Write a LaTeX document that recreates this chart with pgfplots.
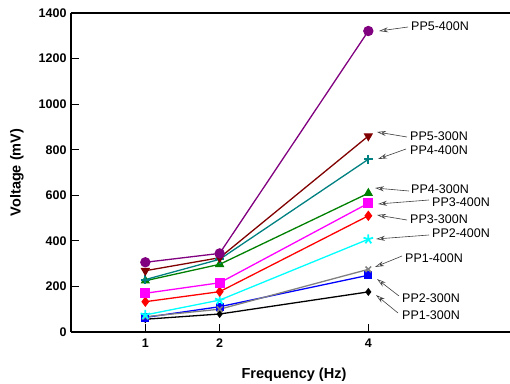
\documentclass[border=0pt]{standalone}
\usepackage{pgfplots}
\pgfplotsset{compat=1.18}
\usepackage{fontspec}
\setmainfont{Liberation Sans}
\usetikzlibrary{arrows.meta}
\definecolor{cPurple}{RGB}{128,0,128}
\definecolor{cDarkRed}{RGB}{128,0,0}
\definecolor{cTeal}{RGB}{0,128,128}
\definecolor{cGreen}{RGB}{0,128,0}
\definecolor{cMag}{RGB}{255,0,255}
\definecolor{cRed}{RGB}{255,0,0}
\definecolor{cCyan}{RGB}{0,255,255}
\definecolor{cGray}{RGB}{128,128,128}
\definecolor{cBlue}{RGB}{0,0,255}
\begin{document}
\begin{tikzpicture}[x=1pt,y=1pt]
\begin{axis}[
  scale only axis, width=446pt, height=319pt,
  xmin=0, xmax=6, ymin=0, ymax=1400,
  axis lines=left, axis line style={-, line width=1.4pt},
  xtick={1,2,4}, ytick={0,200,...,1400},
  tick style={black, line width=1.2pt}, major tick length=8pt,
  tick align=inside,
  tick label style={font=\fontsize{12.5}{14}\selectfont\bfseries},
  /pgf/number format/assume math mode=true,
  /pgf/number format/1000 sep={},
  xticklabel style={yshift=-3pt},
  yticklabel style={xshift=-1pt},
  xlabel={Frequency (Hz)}, ylabel={Voltage (mV)},
  label style={font=\fontsize{14.5}{16}\selectfont\bfseries},
  xlabel style={yshift=-14pt},
  ylabel style={yshift=8pt},
  clip=false,
]
\addplot[black, line width=1.3pt, mark=diamond*, mark size=3pt] coordinates {(1,56) (2,79) (4,176)};
\addplot[cBlue, line width=1.3pt, mark=square*, mark size=3.5pt] coordinates {(1,64) (2,111) (4,249)};
\addplot[cGray, line width=1.3pt, mark=x, mark size=4pt, mark options={line width=1.5pt}] coordinates {(1,67) (2,100) (4,275)};
\addplot[cCyan, line width=1.3pt, mark=star, mark size=5pt, mark options={line width=1.8pt}] coordinates {(1,75) (2,140) (4,407)};
\addplot[cRed, line width=1.3pt, mark=diamond*, mark size=4.2pt] coordinates {(1,133) (2,177) (4,510)};
\addplot[cMag, line width=1.3pt, mark=square*, mark size=4.2pt] coordinates {(1,170) (2,216) (4,565)};
\addplot[cGreen, line width=1.3pt, mark=triangle*, mark size=4.2pt] coordinates {(1,225) (2,297) (4,609)};
\addplot[cTeal, line width=1.3pt, mark=+, mark size=4.5pt, mark options={line width=2pt}] coordinates {(1,230) (2,319) (4,758)};
\addplot[cDarkRed, line width=1.3pt, mark=triangle*, mark size=4.2pt, mark options={rotate=180}] coordinates {(1,269) (2,326) (4,860)};
\addplot[cPurple, line width=1.3pt, mark=*, mark size=4.5pt] coordinates {(1,306) (2,345) (4,1321)};
\draw[line width=1.4pt] (rel axis cs:0,1) -- (rel axis cs:1,1);
\end{axis}
\begin{scope}[every node/.style={anchor=west, inner sep=0pt, font=\fontsize{12.5}{14}\selectfont}, arr/.style={draw=black!75, line width=0.6pt, -{Stealth[open, length=9pt, width=5pt]}}]
\node at (340,306) {PP5-400N}; \draw[arr] (337,305) -- (308,301);
\node at (339,196) {PP5-300N}; \draw[arr] (336,195) -- (306,200);
\node at (339,182) {PP4-400N}; \draw[arr] (335,183) -- (307,173);
\node at (340,143) {PP4-300N}; \draw[arr] (338,141) -- (304,144);
\node at (361,130) {PP3-400N}; \draw[arr] (358,132) -- (307,128);
\node at (339,113) {PP3-300N}; \draw[arr] (336,112) -- (306,117);
\node at (361,99) {PP2-400N}; \draw[arr] (358,97) -- (305,93);
\node at (334,74) {PP1-400N}; \draw[arr] (331,76) -- (304,65);
\node at (331,34) {PP2-300N}; \draw[arr] (328,36) -- (306,53);
\node at (331,17) {PP1-300N}; \draw[arr] (327,19) -- (305,37);
\end{scope}
\pgfresetboundingbox
\path (-71,-51) rectangle (439,332);
\end{tikzpicture}
\end{document}
